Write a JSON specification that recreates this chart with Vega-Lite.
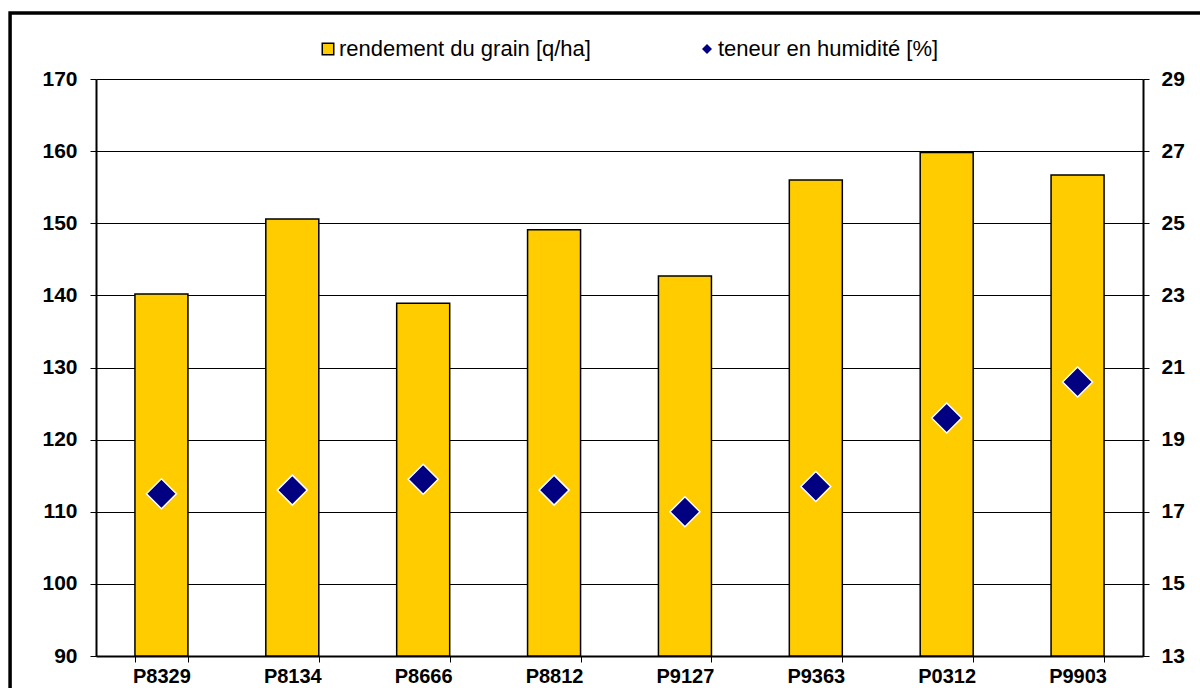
{
  "$schema": "https://vega.github.io/schema/vega-lite/v6.json",
  "width": 1047,
  "height": 577,
  "autosize": {"type": "none"},
  "padding": {"left": 96, "top": 79, "right": 57, "bottom": 32},
  "background": "white",
  "config": {"view": {"stroke": null}, "font": "Liberation Sans"},
  "data": {
    "values": [
      {"hybride": "P8329", "rendement": 140.2, "humidite": 17.5},
      {"hybride": "P8134", "rendement": 150.6, "humidite": 17.6},
      {"hybride": "P8666", "rendement": 138.9, "humidite": 17.9},
      {"hybride": "P8812", "rendement": 149.1, "humidite": 17.6},
      {"hybride": "P9127", "rendement": 142.7, "humidite": 17.0},
      {"hybride": "P9363", "rendement": 156.0, "humidite": 17.7},
      {"hybride": "P0312", "rendement": 159.8, "humidite": 19.6},
      {"hybride": "P9903", "rendement": 156.7, "humidite": 20.6}
    ]
  },
  "layer": [
    {
      "data": {"values": [{}]},
      "mark": {"type": "rect", "fill": "transparent", "stroke": "black", "strokeWidth": 3.5, "clip": false},
      "encoding": {
        "x": {"datum": -0.6565, "type": "quantitative", "scale": {"domain": [0, 8], "nice": false, "zero": false}, "axis": null},
        "x2": {"datum": 9},
        "y": {"datum": 179.14, "type": "quantitative", "scale": {"domain": [90, 170], "nice": false, "zero": false}, "axis": null},
        "y2": {"datum": 80}
      }
    },
    {
      "layer": [
        {
          "mark": {"type": "bar", "stroke": "black", "strokeWidth": 1.5},
          "encoding": {
            "x": {
              "field": "hybride", "type": "nominal", "sort": null,
              "scale": {"paddingInner": 0.595, "paddingOuter": 0.2975},
              "axis": {
                "title": null, "tickBand": "extent", "labelAngle": 0, "grid": false,
                "domainColor": "black", "domainWidth": 2, "tickColor": "black", "tickSize": 6, "tickWidth": 1,
                "labelFont": "Liberation Sans", "labelFontWeight": "bold", "labelFontSize": 20, "labelColor": "black", "labelPadding": 4
              }
            },
            "y": {
              "field": "rendement", "type": "quantitative",
              "scale": {"domain": [90, 170], "nice": false, "zero": false},
              "axis": {
                "orient": "left", "title": null, "values": [90, 100, 110, 120, 130, 140, 150, 160, 170],
                "grid": true, "gridColor": "black", "gridWidth": 1,
                "domainColor": "black", "domainWidth": 2, "tickColor": "black", "tickSize": 6, "tickWidth": 1,
                "labelFont": "Liberation Sans", "labelFontWeight": "bold", "labelFontSize": 21, "labelColor": "black", "labelPadding": 13
              }
            },
            "y2": {"datum": 90},
            "color": {
              "datum": "rendement du grain [q/ha]",
              "scale": {"range": ["#FFCC00"]},
              "legend": {
                "title": null, "orient": "none", "legendX": 221, "legendY": -41, "padding": 0, "labelLimit": 0,
                "symbolType": "square", "symbolSize": 132, "symbolStrokeColor": "black", "symbolStrokeWidth": 1.5,
                "labelFont": "Liberation Sans", "labelFontSize": 22, "labelColor": "black", "labelOffset": 0
              }
            }
          }
        },
        {
          "mark": {"type": "point", "shape": "diamond", "filled": true, "fill": "#000080", "stroke": "white", "strokeWidth": 1.5, "size": 900, "opacity": 1},
          "encoding": {
            "x": {"field": "hybride", "type": "nominal", "sort": null},
            "y": {
              "field": "humidite", "type": "quantitative",
              "scale": {"domain": [13, 29], "nice": false, "zero": false},
              "axis": {
                "orient": "right", "title": null, "values": [13, 15, 17, 19, 21, 23, 25, 27, 29], "grid": false,
                "domainColor": "black", "domainWidth": 2, "tickColor": "black", "tickSize": 6, "tickWidth": 1,
                "labelFont": "Liberation Sans", "labelFontWeight": "bold", "labelFontSize": 21, "labelColor": "black", "labelPadding": 12
              }
            },
            "shape": {
              "datum": "teneur en humidité [%]",
              "scale": {"range": ["diamond"]},
              "legend": {
                "title": null, "orient": "none", "legendX": 600, "legendY": -41, "padding": 0, "labelLimit": 0,
                "symbolSize": 100, "symbolFillColor": "#000080", "symbolStrokeColor": "#000080", "symbolStrokeWidth": 0,
                "labelFont": "Liberation Sans", "labelFontSize": 22, "labelColor": "black", "labelOffset": 0
              }
            }
          }
        }
      ],
      "resolve": {"scale": {"y": "independent"}}
    }
  ],
  "resolve": {"scale": {"x": "independent", "y": "independent"}}
}
